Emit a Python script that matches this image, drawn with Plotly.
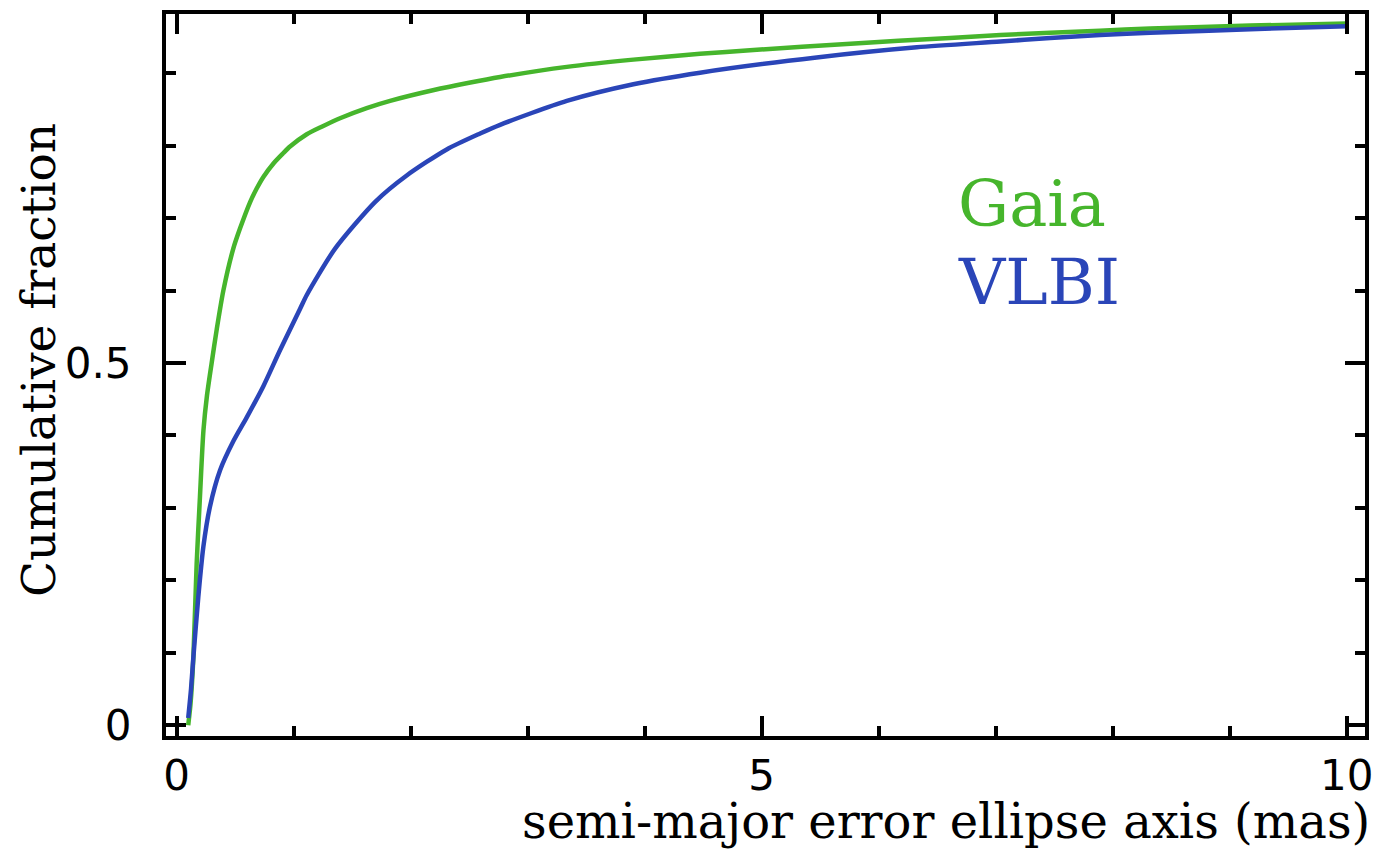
import plotly.graph_objects as go

# Cumulative distributions of the semi-major error ellipse axis (mas)
gaia_x = [0.10, 0.12, 0.144, 0.172, 0.20, 0.23, 0.26, 0.30, 0.343, 0.40, 0.485,
          0.543, 0.628, 0.685, 0.742, 0.83, 0.913, 0.97, 1.113, 1.25, 1.397,
          1.625, 1.825, 2.2, 2.5, 2.765, 3.335, 3.904, 4.474, 4.90, 5.76,
          6.61, 7.04, 7.89, 8.32, 9.175, 10.0]
gaia_y = [0.0, 0.03, 0.094, 0.223, 0.315, 0.407, 0.455, 0.50, 0.546, 0.60, 0.658,
          0.686, 0.722, 0.741, 0.757, 0.776, 0.790, 0.799, 0.816, 0.827, 0.838,
          0.852, 0.862, 0.877, 0.887, 0.895, 0.909, 0.919, 0.927, 0.932, 0.941,
          0.949, 0.953, 0.959, 0.962, 0.966, 0.969]

vlbi_x = [0.10, 0.124, 0.144, 0.186, 0.229, 0.286, 0.372, 0.485, 0.60, 0.742,
          0.885, 1.056, 1.113, 1.355, 1.70, 1.967, 2.309, 2.594, 2.765,
          3.335, 3.904, 4.474, 5.47, 6.326, 7.04, 7.466, 7.893, 8.32, 9.175, 10.0]
vlbi_y = [0.01, 0.05, 0.094, 0.177, 0.246, 0.302, 0.352, 0.392, 0.425, 0.468,
          0.518, 0.575, 0.594, 0.658, 0.723, 0.759, 0.795, 0.817, 0.829,
          0.862, 0.885, 0.901, 0.922, 0.936, 0.944, 0.949, 0.953, 0.956, 0.961, 0.965]

x_ticks = [0, 5, 10]
x_tick_labels = ["0", "5", "10"]
y_ticks = [0, 0.5]
y_tick_labels = ["0", "0.5"]

GREEN = "#46b52c"
BLUE = "#2a45b8"

fig = go.Figure()
fig.add_trace(go.Scatter(x=gaia_x, y=gaia_y, mode="lines", name="Gaia",
                         line=dict(color=GREEN, width=4.5, shape="spline", smoothing=0.7)))
fig.add_trace(go.Scatter(x=vlbi_x, y=vlbi_y, mode="lines", name="VLBI",
                         line=dict(color=BLUE, width=4.5, shape="spline", smoothing=0.7)))

axis_common = dict(
    showline=True, linecolor="black", linewidth=4, mirror="allticks",
    ticks="inside", ticklen=20, tickwidth=3.5, tickcolor="black",
    showgrid=False, zeroline=False, automargin=False,
    tickfont=dict(family="DejaVu Sans", size=42, color="black"),
)

fig.update_xaxes(
    range=[-0.09, 10.156], tickvals=x_ticks, ticktext=x_tick_labels,
    minor=dict(ticks="inside", ticklen=10, tickwidth=3.5, tickcolor="black", dtick=1, tick0=0),
    ticklabelstandoff=0,
    **axis_common,
)
fig.update_yaxes(
    range=[-0.015, 0.982], tickvals=y_ticks, ticktext=y_tick_labels,
    minor=dict(ticks="inside", ticklen=10, tickwidth=3.5, tickcolor="black", dtick=0.1, tick0=0),
    ticklabelstandoff=22,
    **axis_common,
)

serif = "DejaVu Serif"
fig.add_annotation(text="semi-major error ellipse axis (mas)", xref="paper", yref="paper",
                   x=1.0, y=0, xanchor="right", yanchor="top", yshift=-55, xshift=7,
                   showarrow=False, font=dict(family=serif, size=48, color="black"))
fig.add_annotation(text="Cumulative fraction", xref="paper", yref="paper",
                   x=0, y=0.5, xanchor="center", yanchor="middle", xshift=-128, yshift=15,
                   textangle=-90, showarrow=False,
                   font=dict(family=serif, size=47, color="black"))
fig.add_annotation(text="Gaia", xref="x", yref="y", x=6.66, y=0.72,
                   xanchor="left", yanchor="middle", showarrow=False,
                   font=dict(family=serif, size=64, color=GREEN))
fig.add_annotation(text="VLBI", xref="x", yref="y", x=6.66, y=0.612,
                   xanchor="left", yanchor="middle", showarrow=False,
                   font=dict(family=serif, size=64, color=BLUE))

fig.update_layout(
    width=1378, height=856,
    margin=dict(l=166, r=13, t=14, b=120),
    paper_bgcolor="white", plot_bgcolor="white",
    showlegend=False,
)

fig.write_html("out.html")
